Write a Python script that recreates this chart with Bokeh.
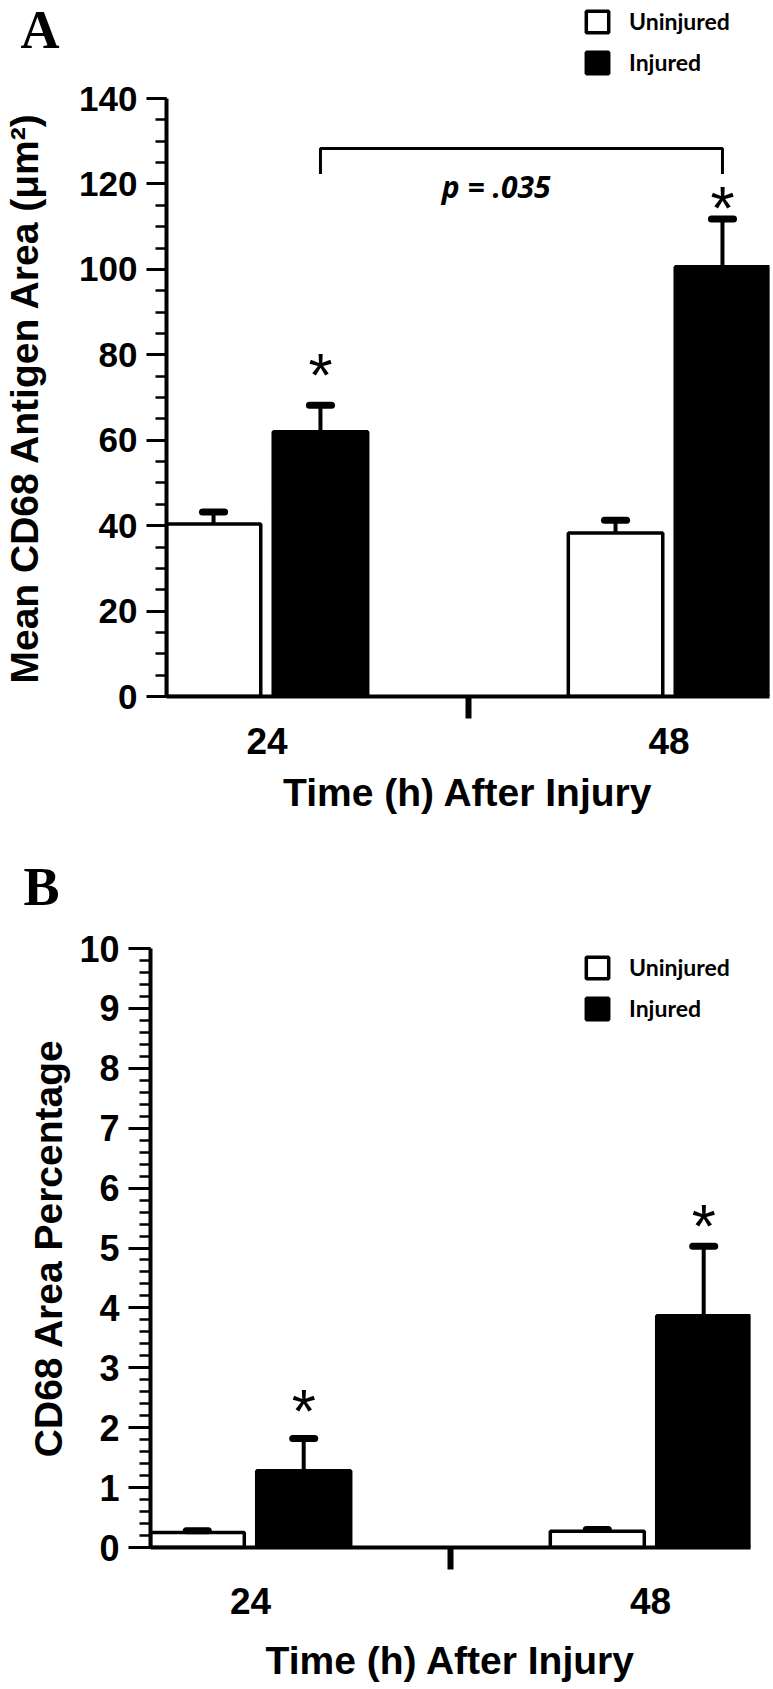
from bokeh.plotting import figure
from bokeh.models import (Range1d, SingleIntervalTicker, FixedTicker, Legend,
                          LegendItem, Label)
from bokeh.core.properties import value
from bokeh.embed import file_html
from bokeh.resources import INLINE

# ---------------- data ----------------
groups = ["24", "48"]                 # time after injury (h)
group_pos = [0, 1]
series = ["Uninjured", "Injured"]

# Panel A: Mean CD68 antigen area (um^2)
a_uninjured = [40.4, 38.3]
a_uninjured_err = [2.8, 2.95]
a_injured = [62.0, 100.6]
a_injured_err = [6.2, 11.2]
a_star_y = [77.4, 116.5]
a_bracket_y = [122.3, 128.3]          # end of drops, top of bracket
a_p_text = ["p = .035"]
a_p_pos = [0.57, 119.3]

# Panel B: CD68 area percentage
b_uninjured = [0.25, 0.27]
b_uninjured_err = [0.03, 0.03]
b_injured = [1.28, 3.87]
b_injured_err = [0.54, 1.16]
b_star_y = [2.43, 5.52]

OFFSET = 0.133
BAR_W = 0.235
FONT = "Liberation Sans"
PAGE_W = 773


def style_legend(legend):
    legend.orientation = "vertical"
    legend.glyph_width = 28
    legend.glyph_height = 27
    legend.label_standoff = 18
    legend.spacing = 13
    legend.padding = 0
    legend.margin = 0
    legend.border_line_color = None
    legend.background_fill_alpha = 0
    legend.inactive_fill_alpha = 0
    legend.label_text_font = "Lato"
    legend.label_text_font_style = "bold"
    legend.label_text_font_size = "23px"
    legend.label_text_color = "black"


def header(height, letter, letter_x, letter_y, legend_pos=None):
    h = figure(frame_width=PAGE_W, frame_height=height, min_border=0,
               x_axis_location=None, y_axis_location=None, output_backend="svg",
               toolbar_location=None, x_range=Range1d(0, 1), y_range=Range1d(0, 1))
    h.outline_line_color = None
    h.grid.visible = False
    h.add_layout(Label(x=letter_x, y=letter_y, x_units="screen", y_units="screen",
                       text=letter, text_font="Liberation Serif", text_font_style="bold",
                       text_font_size="54px", text_baseline="alphabetic",
                       text_color="black"))
    if legend_pos is not None:
        # legend swatches share the style of the bars in the panel below;
        # the swatch renderers themselves are hidden in this header strip
        r_u = h.vbar(x=[0.5], top=[0.5], width=0.1, fill_color="white",
                     line_color="black", line_width=3.5)
        r_i = h.vbar(x=[0.5], top=[0.5], width=0.1, fill_color="black",
                     line_color="black", line_width=3.5)
        r_u.visible = False
        r_i.visible = False
        legend = Legend(items=[LegendItem(label=series[0], renderers=[r_u]),
                               LegendItem(label=series[1], renderers=[r_i])],
                        location=legend_pos)
        style_legend(legend)
        h.add_layout(legend)
    return h


def make_panel(ymax, interval, n_minor, ylabel, unin, unin_err, inj, inj_err, star_y,
               frame_w, frame_h, b_left, b_right, b_top, b_bottom, tick_font,
               xlabel_standoff, xaxis_label_standoff, ylabel_standoff, ytick_out,
               legend_pos=None):
    p = figure(frame_width=frame_w, frame_height=frame_h, output_backend="svg",
               toolbar_location=None,
               x_range=Range1d(-0.25, 1.25), y_range=Range1d(0, ymax),
               min_border_left=b_left, min_border_right=b_right,
               min_border_top=b_top, min_border_bottom=b_bottom)
    p.outline_line_color = None
    p.xgrid.grid_line_color = None
    p.ygrid.grid_line_color = None
    p.background_fill_color = "white"
    p.border_fill_color = "white"

    xu = [g - OFFSET for g in group_pos]
    xi = [g + OFFSET for g in group_pos]

    r_u = p.vbar(x=xu, top=unin, bottom=0, width=BAR_W, fill_color="white",
                 line_color="black", line_width=3.5)
    r_i = p.vbar(x=xi, top=inj, bottom=0, width=BAR_W, fill_color="black",
                 line_color="black", line_width=3.5)

    # error bars (upper only)
    for xs, vals, errs in ((xu, unin, unin_err), (xi, inj, inj_err)):
        tops = [v + e for v, e in zip(vals, errs)]
        p.segment(x0=xs, y0=vals, x1=xs, y1=tops, line_color="black", line_width=4)
        p.segment(x0=[x - 0.0275 for x in xs], y0=tops, x1=[x + 0.0275 for x in xs],
                  y1=tops, line_color="black", line_width=7, line_cap="round")

    # significance asterisks
    p.text(x=xi, y=star_y, text=["*"] * len(xi), text_font=value(FONT),
           text_font_size="62px", text_align="center", text_baseline="alphabetic",
           y_offset=9, text_color="black")

    # axes
    yax = p.yaxis[0]
    yax.ticker = SingleIntervalTicker(interval=interval, num_minor_ticks=n_minor)
    yax.axis_label = ylabel
    yax.axis_line_width = 4
    yax.major_tick_line_width = 3
    yax.minor_tick_line_width = 2.5
    yax.major_tick_out = ytick_out
    yax.major_tick_in = 0
    yax.minor_tick_out = 11
    yax.minor_tick_in = 0
    yax.major_label_text_font = FONT
    yax.major_label_text_font_style = "bold"
    yax.major_label_text_font_size = tick_font
    yax.major_label_text_color = "black"
    yax.major_label_standoff = 9
    yax.axis_label_text_font = FONT
    yax.axis_label_text_font_style = "bold"
    yax.axis_label_text_font_size = "39px"
    yax.axis_label_text_color = "black"
    yax.axis_label_standoff = ylabel_standoff

    xax = p.xaxis[0]
    xax.ticker = FixedTicker(ticks=group_pos, minor_ticks=[0.5])
    xax.major_label_overrides = {g: lab for g, lab in zip(group_pos, groups)}
    xax.axis_label = "Time (h) After Injury"
    xax.axis_line_width = 4
    xax.major_tick_line_color = None
    xax.major_tick_out = 0
    xax.major_tick_in = 0
    xax.minor_tick_out = 22
    xax.minor_tick_in = 0
    xax.minor_tick_line_width = 6
    xax.major_label_text_font = FONT
    xax.major_label_text_font_style = "bold"
    xax.major_label_text_font_size = "37px"
    xax.major_label_text_color = "black"
    xax.major_label_standoff = xlabel_standoff
    xax.axis_label_text_font = FONT
    xax.axis_label_text_font_style = "bold"
    xax.axis_label_text_font_size = "39px"
    xax.axis_label_text_color = "black"
    xax.axis_label_standoff = xaxis_label_standoff

    if legend_pos is not None:
        legend = Legend(items=[LegendItem(label=series[0], renderers=[r_u]),
                               LegendItem(label=series[1], renderers=[r_i])],
                        location=legend_pos)
        style_legend(legend)
        p.add_layout(legend)
    return p, xi


# ---- panel A ----
hA = header(76, "A", 20, 47, legend_pos=(583, 0))

pA, xiA = make_panel(140, 20, 4, "Mean CD68 Antigen Area (\u03bcm\u00b2)",
                     a_uninjured, a_uninjured_err, a_injured, a_injured_err, a_star_y,
                     frame_w=603, frame_h=598, b_left=164, b_right=6, b_top=22,
                     b_bottom=144, tick_font="35px", xlabel_standoff=9,
                     xaxis_label_standoff=14, ylabel_standoff=30, ytick_out=20)

# bracket with p-value between the two injured bars
pA.line(x=[xiA[0], xiA[0], xiA[1], xiA[1]],
        y=[a_bracket_y[0], a_bracket_y[1], a_bracket_y[1], a_bracket_y[0]],
        line_color="black", line_width=3)
pA.text(x=[a_p_pos[0]], y=[a_p_pos[1]], text=a_p_text, text_font=value("Open Sans"),
        text_font_style="bold italic", text_font_size="30px", text_align="center",
        text_baseline="alphabetic", text_color="black")

# ---- panel B ----
hB = header(90, "B", 23, 44)

pB, xiB = make_panel(10, 1, 5, "CD68 Area Percentage",
                     b_uninjured, b_uninjured_err, b_injured, b_injured_err, b_star_y,
                     frame_w=600, frame_h=599, b_left=150, b_right=23, b_top=18,
                     b_bottom=142, tick_font="36px", xlabel_standoff=18,
                     xaxis_label_standoff=22, ylabel_standoff=6, ytick_out=22,
                     legend_pos=(433, 525))

# four independent roots stacked on the page (no cross-plot frame alignment)
p = [hA, pA, hB, pB]
open("out.html", "w").write(file_html(p, INLINE))
